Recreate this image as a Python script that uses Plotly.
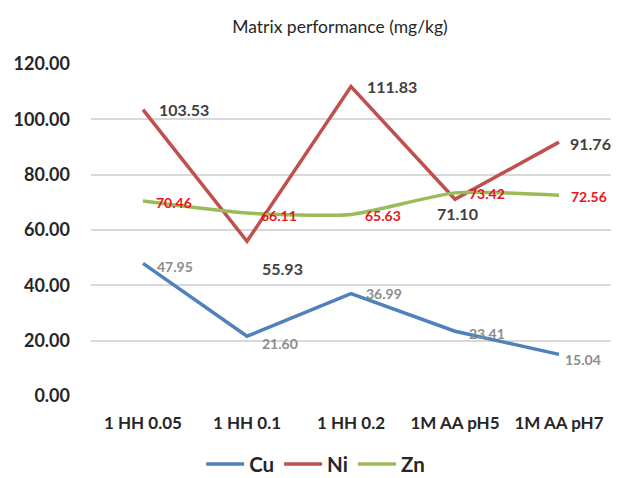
import plotly.graph_objects as go

categories = ["1 HH 0.05", "1 HH 0.1", "1 HH 0.2", "1M AA pH5", "1M AA pH7"]
cu = [47.95, 21.60, 36.99, 23.41, 15.04]
ni = [103.53, 55.93, 111.83, 71.10, 91.76]
zn = [70.46, 66.11, 65.63, 73.42, 72.56]
y_ticks = [0, 20, 40, 60, 80, 100, 120]

FONT = "Lato"

# label style / offsets (pixels) per series
label_cfg = {
    "Cu": dict(color="#8c8c8c", size=14,
               dx=[15, 16, 16, 15, 7], dy=[3, 7, 0, 2, 5], anchor=["left"] * 5),
    "Ni": dict(color="#404040", size=16,
               dx=[17, 16, 17, 4, 12], dy=[0, 27, 0, 14, 1],
               anchor=["left", "left", "left", "center", "left"]),
    "Zn": dict(color="#e8151b", size=14,
               dx=[14, 15, 15, 15, 13], dy=[1, 2, 1, 1, 1], anchor=["left"] * 5),
}

series = [("Cu", cu, "#4f81bd", "linear"),
          ("Ni", ni, "#c0504d", "linear"),
          ("Zn", zn, "#9bbb59", "spline")]

fig = go.Figure()
for name, vals, color, shape in series:
    line = dict(color=color, width=3.5, shape=shape)
    if shape == "spline":
        line["smoothing"] = 0.6
    fig.add_trace(go.Scatter(x=categories, y=vals, name=name, mode="lines",
                             line=line, cliponaxis=False))
    cfg = label_cfg[name]
    for i, (c, v) in enumerate(zip(categories, vals)):
        fig.add_annotation(x=c, y=v, xref="x", yref="y", text=f"{v:.2f}",
                           showarrow=False, xanchor=cfg["anchor"][i], yanchor="middle",
                           xshift=cfg["dx"][i] - 2, yshift=-cfg["dy"][i],
                           borderpad=0,
                           font=dict(family=FONT, size=cfg["size"], color=cfg["color"],
                                     weight="bold"))

fig.update_layout(
    width=622, height=478,
    paper_bgcolor="white", plot_bgcolor="white",
    margin=dict(l=91, r=11, t=64, b=82, autoexpand=False),
    title=dict(text="Matrix performance (mg/kg)", x=340/622, xanchor="center",
               y=1 - 27/478, yanchor="middle",
               font=dict(family=FONT, size=17.5, color="#262626")),
    font=dict(family=FONT),
    legend=dict(orientation="h", x=0.432, xanchor="center", y=-0.205, yanchor="middle",
                font=dict(family=FONT, size=20.5, color="#262626", weight="bold"),
                traceorder="normal", itemwidth=38),
    showlegend=True,
)
fig.update_xaxes(range=[-0.5, 4.5], showgrid=False, showline=False, zeroline=False,
                 ticks="", automargin=False,
                 tickfont=dict(family=FONT, size=17, color="#262626", weight="bold"),
                 ticklabelstandoff=15)
fig.update_yaxes(range=[0, 120], tickvals=y_ticks, tickformat=".2f",
                 showgrid=True, gridcolor="#d9d9d9", gridwidth=1.5,
                 zeroline=False, showline=False, ticks="", automargin=False,
                 tickfont=dict(family=FONT, size=18, color="#262626", weight="bold"),
                 ticklabelstandoff=20)

fig.write_html("out.html", config={"displayModeBar": False},
               post_script="document.body.style.margin='0';")
